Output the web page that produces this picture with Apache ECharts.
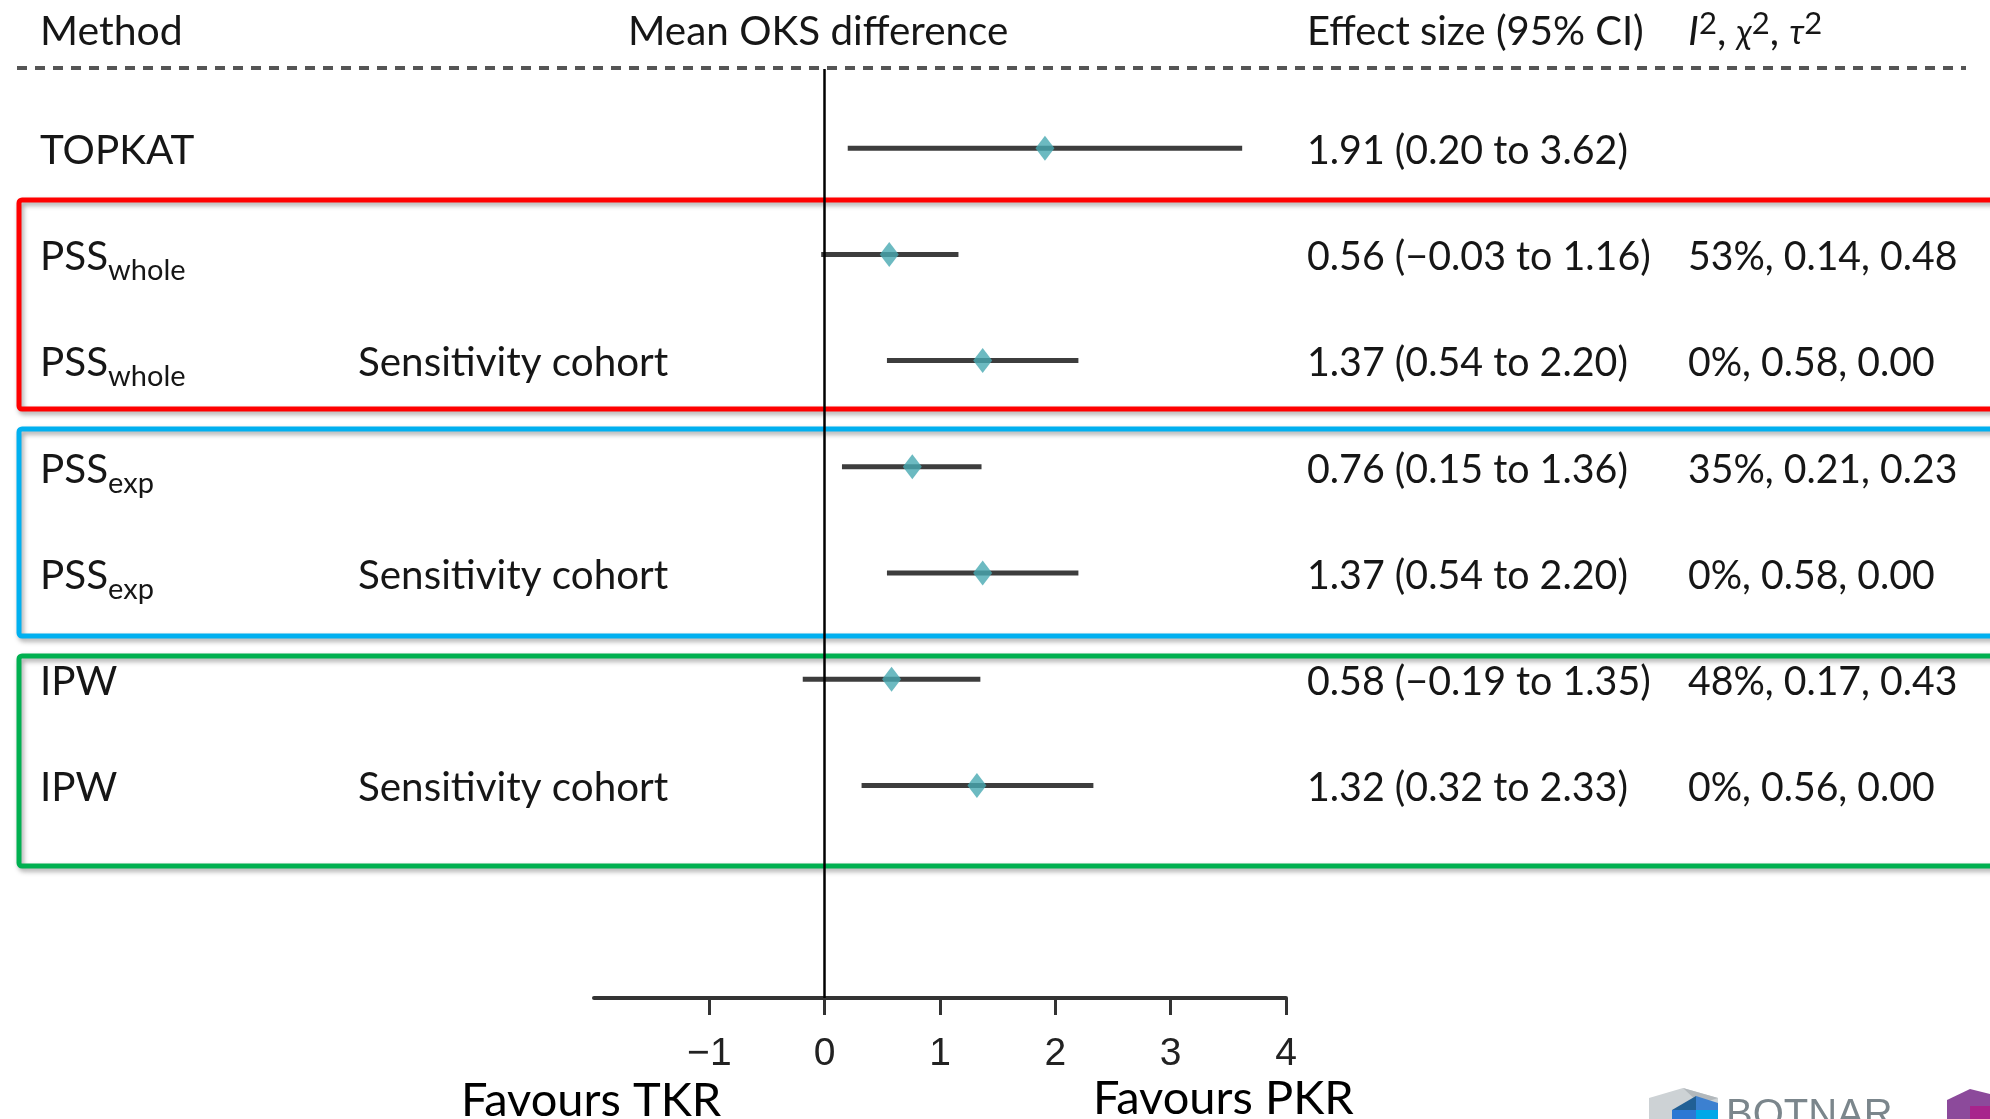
<!DOCTYPE html>
<html><head><meta charset="utf-8">
<script src="https://cdn.jsdelivr.net/npm/echarts@6/dist/echarts.min.js"></script>
<style>html,body{margin:0;padding:0;background:#fff}#c{width:1990px;height:1119px}</style>
</head><body><div id="c"></div>
<script>
// ---- data ----
const methods   = ['TOPKAT','PSS','PSS','PSS','PSS','IPW','IPW'];
const methodSub = ['','whole','whole','exp','exp','',''];
const cohorts   = ['','','Sensitivity cohort','','Sensitivity cohort','','Sensitivity cohort'];
const effect = [1.91, 0.56, 1.37, 0.76, 1.37, 0.58, 1.32];
const ciLow  = [0.20, -0.03, 0.54, 0.15, 0.54, -0.19, 0.32];
const ciHigh = [3.62, 1.16, 2.20, 1.36, 2.20, 1.35, 2.33];
const i2   = [null, 53, 0, 35, 0, 48, 0];
const chi2 = [null, 0.14, 0.58, 0.21, 0.58, 0.17, 0.56];
const tau2 = [null, 0.48, 0.00, 0.23, 0.00, 0.43, 0.00];
const xTicks = [-1, 0, 1, 2, 3, 4];
const headers = ['Method', 'Mean OKS difference', 'Effect size (95% CI)'];
const footLabels = ['Favours TKR', 'Favours PKR'];

// ---- chart ----
const chart = echarts.init(document.getElementById('c'), null, {renderer: 'canvas'});
const rows = effect.map((_, i) => i);
const TXT = '#161616';
const BASE = 'Lato';

chart.setOption({
  animation: false,
  grid: {left: 594, right: 704, top: 69, bottom: 121, containLabel: false},
  xAxis: {
    type: 'value', position: 'bottom', min: -2, max: 4, interval: 1,
    axisLine: {show: true, onZero: false, lineStyle: {color: '#333', width: 4}},
    axisTick: {show: true, customValues: xTicks, length: 17, lineStyle: {color: '#333', width: 3}},
    axisLabel: {customValues: xTicks, margin: 37, fontFamily: 'Liberation Sans', fontSize: 39, color: '#222',
                formatter: v => (v < 0 ? '\u2212' : '') + Math.abs(v)},
    splitLine: {show: false}
  },
  yAxis: {type: 'value', inverse: true, min: -0.745, max: 8, show: false},
  series: [
    {
      type: 'custom', z: 3, clip: false,
      encode: {x: [0, 1], y: 2},
      data: rows.map(i => [ciLow[i], ciHigh[i], i]),
      renderItem: (params, api) => {
        const s = api.coord([api.value(0), api.value(2)]);
        const e = api.coord([api.value(1), api.value(2)]);
        return {type: 'line', shape: {x1: s[0], y1: s[1], x2: e[0], y2: e[1]},
                style: {stroke: '#3d3d3d', lineWidth: 5}};
      }
    },
    {
      type: 'scatter', z: 4, symbol: 'diamond', symbolSize: [19, 25],
      itemStyle: {color: '#47a9b1'},
      data: rows.map(i => [effect[i], i]),
      markLine: {
        silent: true, animation: false, symbol: ['none', 'none'], label: {show: false},
        lineStyle: {color: '#000', width: 2.5, type: 'solid'},
        data: [{xAxis: 0}]
      }
    }
  ]
});

// ---- text columns & decorations ----
const cv = document.createElement('canvas').getContext('2d');
function tw(text, font) { cv.font = font; return cv.measureText(text).width; }
const F = (s, st) => (st ? st + ' ' : '') + s + 'px ' + BASE + ', "DejaVu Sans", sans-serif';

const g = [];
function txt(x, y, text, font, sx) {
  g.push({type: 'text', x: x, y: y, z: 10, scaleX: sx || 1,
    style: {text: text, font: font, fill: TXT, verticalAlign: 'middle', align: 'left'}});
}

// boxes
const boxes = [
  {y: 200, h: 209, c: '#ff0000'},
  {y: 429, h: 207, c: '#00b0f0'},
  {y: 656, h: 210, c: '#00b050'}
];
boxes.forEach(b => g.push({type: 'rect', z: 0, shape: {x: 19, y: b.y, width: 2100, height: b.h, r: 3},
  style: {fill: 'none', stroke: b.c, lineWidth: 5, shadowBlur: 5, shadowOffsetX: 2, shadowOffsetY: 3,
          shadowColor: 'rgba(0,0,0,0.35)'}}));

// dashed header rule
g.push({type: 'line', z: 1, shape: {x1: 17, y1: 68, x2: 1966, y2: 68},
  style: {stroke: '#555', lineWidth: 4, lineDash: [10, 8]}});

// headers
const HY = 31.5;
txt(40, HY, headers[0], F(41));
txt(628, HY, headers[1], F(41), 0.985);
txt(1307, HY, headers[2], F(41), 0.975);
// I², χ², τ²
(function () {
  let x = 1688;
  const parts = [
    {t: 'I', f: F(41, 'italic'), dy: 0},
    {t: '2', f: F(31), dy: -8},
    {t: ', ', f: F(41), dy: 0},
    {t: 'χ', f: F(34, 'italic'), dy: 2},
    {t: '2', f: F(31), dy: -8},
    {t: ', ', f: F(41), dy: 0},
    {t: 'τ', f: F(34, 'italic'), dy: 2},
    {t: '2', f: F(31), dy: -8}
  ];
  parts.forEach(p => { txt(x, HY + p.dy, p.t, p.f); x += tw(p.t, p.f); });
})();

const fmt = v => (v < 0 ? '\u2212' : '') + Math.abs(v).toFixed(2);
rows.forEach(i => {
  const y = chart.convertToPixel({yAxisIndex: 0}, i) + 2.5;
  txt(40, y, methods[i], F(41), 0.985);
  if (methodSub[i]) txt(40 + 0.985 * tw(methods[i], F(41)), y + 14, methodSub[i], F(29));
  if (cohorts[i]) txt(358, y, cohorts[i], F(41), 0.985);
  txt(1307, y, fmt(effect[i]) + ' (' + fmt(ciLow[i]) + ' to ' + fmt(ciHigh[i]) + ')', F(41), 0.96);
  if (i2[i] !== null) txt(1688, y, i2[i] + '%, ' + chi2[i].toFixed(2) + ', ' + tau2[i].toFixed(2), F(41), 0.955);
});

// footer labels
txt(461, 1100.5, footLabels[0], F(47));
txt(1093, 1098.5, footLabels[1], F(47));
g.forEach(el => { if (el.type === 'text' && el.y > 1090) el.style.fill = '#000'; });

// cropped logo (decorative)
const poly = (pts, fill) => g.push({type: 'polygon', z: 1, shape: {points: pts}, style: {fill: fill}});
poly([[1649,1098],[1683,1088],[1718,1098],[1718,1119],[1649,1119]], '#cdd2d5');
poly([[1683,1088],[1718,1098],[1700,1104]], '#b2b8bc');
poly([[1672,1110],[1696,1096],[1696,1110]], '#215f95');
poly([[1696,1096],[1718,1103],[1718,1110],[1696,1110]], '#3c80d0');
poly([[1672,1110],[1696,1110],[1696,1119],[1672,1119]], '#2c78d4');
poly([[1696,1110],[1718,1110],[1718,1119],[1696,1119]], '#00a8e8');
g.push({type: 'text', z: 1, x: 1726, y: 1096, style: {text: 'BOTNAR', font: '40px "Liberation Sans", sans-serif',
  fill: '#7b868c', verticalAlign: 'top', align: 'left'}});
poly([[1947,1100],[1970,1089],[1990,1094],[1990,1119],[1947,1119]], '#8c4a9b');
poly([[1970,1106],[1990,1106],[1990,1119],[1970,1119]], '#a8248c');

chart.setOption({graphic: {elements: g}});
</script>
</body></html>
